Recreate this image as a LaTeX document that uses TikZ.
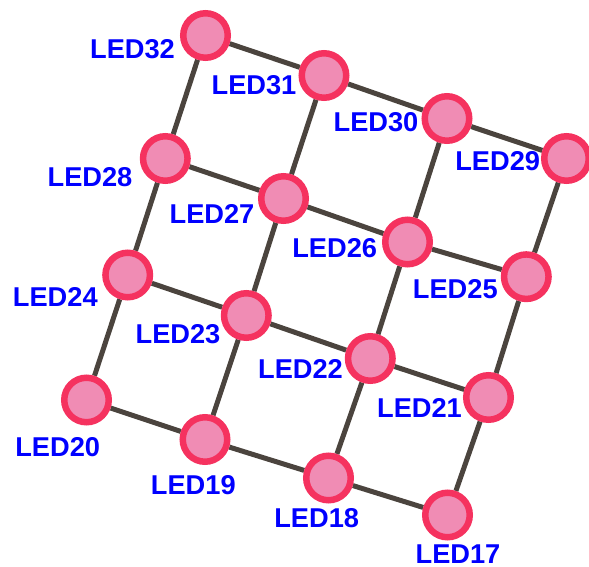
\documentclass[tikz,border=0pt]{standalone}
\usepackage{fontspec}
\setmainfont{Liberation Sans}
\usetikzlibrary{backgrounds}
\definecolor{ledfill}{RGB}{240,140,180}
\definecolor{ledring}{RGB}{245,50,95}
\definecolor{ledblue}{RGB}{0,0,255}
\definecolor{wirecol}{RGB}{75,68,62}

\begin{document}
\begin{tikzpicture}[x=0.02cm, y=-0.02cm,
    led/.style={circle, draw=ledring, fill=ledfill, line width=0.13cm,
      minimum size=0.89cm, inner sep=0pt},
    lbl/.style={text=ledblue, inner sep=0pt,
      font=\bfseries\fontsize{15.5}{18}\selectfont},
    wire/.style={draw=wirecol, line width=0.1cm}]
  \useasboundingbox (0,0) rectangle (589,567);
  % the LEDs
  \node[led] (L32) at (205.5,35.5) {};
  \node[led] (L31) at (324,75.5) {};
  \node[led] (L30) at (447,118.5) {};
  \node[led] (L29) at (566.5,158.5) {};
  \node[led] (L28) at (165.3,158.5) {};
  \node[led] (L27) at (283.5,198.5) {};
  \node[led] (L26) at (407.5,242) {};
  \node[led] (L25) at (526.3,276.7) {};
  \node[led] (L24) at (127.7,275) {};
  \node[led] (L23) at (246.3,315.5) {};
  \node[led] (L22) at (370.3,358.5) {};
  \node[led] (L21) at (488.5,397.5) {};
  \node[led] (L20) at (86.5,400) {};
  \node[led] (L19) at (205,439.5) {};
  \node[led] (L18) at (328.5,478) {};
  \node[led] (L17) at (447.5,515) {};
  % the labels
  \draw
  (132.5,48.8) node[lbl] (t32) {LED32}
  (254,85) node[lbl] (t31) {LED31}
  (376,121.7) node[lbl] (t30) {LED30}
  (497.7,161.3) node[lbl] (t29) {LED29}
  (90,177.3) node[lbl] (t28) {LED28}
  (212,214) node[lbl] (t27) {LED27}
  (334.7,248.3) node[lbl] (t26) {LED26}
  (455.3,288.7) node[lbl] (t25) {LED25}
  (55.3,297.2) node[lbl] (t24) {LED24}
  (178,333.8) node[lbl] (t23) {LED23}
  (300.5,368.8) node[lbl] (t22) {LED22}
  (419.5,408.3) node[lbl] (t21) {LED21}
  (57.7,446.7) node[lbl] (t20) {LED20}
  (193.3,484.7) node[lbl] (t19) {LED19}
  (316.7,517.8) node[lbl] (t18) {LED18}
  (458,554) node[lbl] (t17) {LED17};
  % the wires
  \begin{scope}[on background layer]
    \foreach \a/\b in {32/31, 31/30, 30/29, 28/27, 27/26, 26/25,
      24/23, 23/22, 22/21, 20/19, 19/18, 18/17,
      32/28, 28/24, 24/20, 31/27, 27/23, 23/19,
      30/26, 26/22, 22/18, 29/25, 25/21, 21/17}
      \draw[wire] (L\a) -- (L\b);
  \end{scope}
\end{tikzpicture}
\end{document}
